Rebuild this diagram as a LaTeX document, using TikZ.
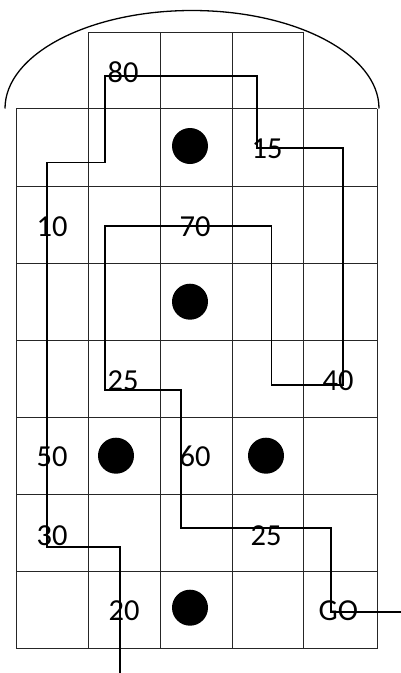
\documentclass[tikz,border=0pt]{standalone}
\usepackage{fontspec}
\setmainfont{Carlito}
\begin{document}
\begin{tikzpicture}[x=1pt,y=-1pt,
  gridline/.style={line width=1pt,draw=black!85},
  route/.style={line width=1.6pt,draw=black,line join=miter},
  lbl/.style={anchor=base west,inner sep=0pt,font=\fontsize{30.5}{30.5}\selectfont},
  stone/.style={circle,fill=black,minimum size=36pt,inner sep=0pt}]
\useasboundingbox (0,0) rectangle (401,673);
% grid
\foreach \y in {108.7,186,263.3,340.7,417.7,494.7,571.7,648.7}
  \draw[gridline] (16,\y) -- (377,\y);
\foreach \x in {16,377}
  \draw[gridline] (\x,108.7) -- (\x,648.7);
\foreach \x in {88,160,232,303}
  \draw[gridline] (\x,32.3) -- (\x,648.7);
\draw[gridline] (88,32.3) -- (303,32.3);
% dome arc
\draw[line width=1.3pt] (5,108.5) arc[start angle=180,end angle=360,x radius=187,y radius=98];
% stones
\node[stone] (s1) at (190,146) {};
\node[stone] (s2) at (190,301.7) {};
\node[stone] (s3) at (116,455.7) {};
\node[stone] (s4) at (266,455.7) {};
\node[stone] (s5) at (190,607.7) {};
% labels
\node[lbl] (l80) at (107.5,82) {80};
\node[lbl] (l15) at (251.5,158) {15};
\node[lbl] (l10) at (36.5,236.5) {10};
\node[lbl] (l70) at (179.5,236.5) {70};
\node[lbl] (l25a) at (107.5,390) {25};
\node[lbl] (l40) at (322.5,390) {40};
\node[lbl] (l50) at (36.5,466.5) {50};
\node[lbl] (l60) at (179.5,466.5) {60};
\node[lbl] (l30) at (36.5,545) {30};
\node[lbl] (l25b) at (250.5,545) {25};
\node[lbl] (l20) at (108.5,620) {20};
\node[lbl] (lGO) at (318.5,620) {GO};
% route corners
\coordinate (start) at (120,673);
\coordinate (c1) at (120,547);
\coordinate (c2) at (47,547);
\coordinate (c3) at (47,162.5);
\coordinate (c4) at (105,162.5);
\coordinate (c5) at (105,76);
\coordinate (c6) at (257,76);
\coordinate (c7) at (257,148);
\coordinate (c8) at (343,148);
\coordinate (c9) at (343,385);
\coordinate (c10) at (271.5,385);
\coordinate (c11) at (271.5,226);
\coordinate (c12) at (105,226);
\coordinate (c13) at (105,390);
\coordinate (c14) at (181,390);
\coordinate (c15) at (181,528);
\coordinate (c16) at (331,528);
\coordinate (c17) at (331,612);
\coordinate (finish) at (401,612);
\draw[route] (start) -- (c1) -- (c2) -- (c3) -- (c4) -- (c5) -- (c6) -- (c7) -- (c8) -- (c9) -- (c10) -- (c11) -- (c12) -- (c13) -- (c14) -- (c15) -- (c16) -- (c17) -- (finish);
\end{tikzpicture}
\end{document}
